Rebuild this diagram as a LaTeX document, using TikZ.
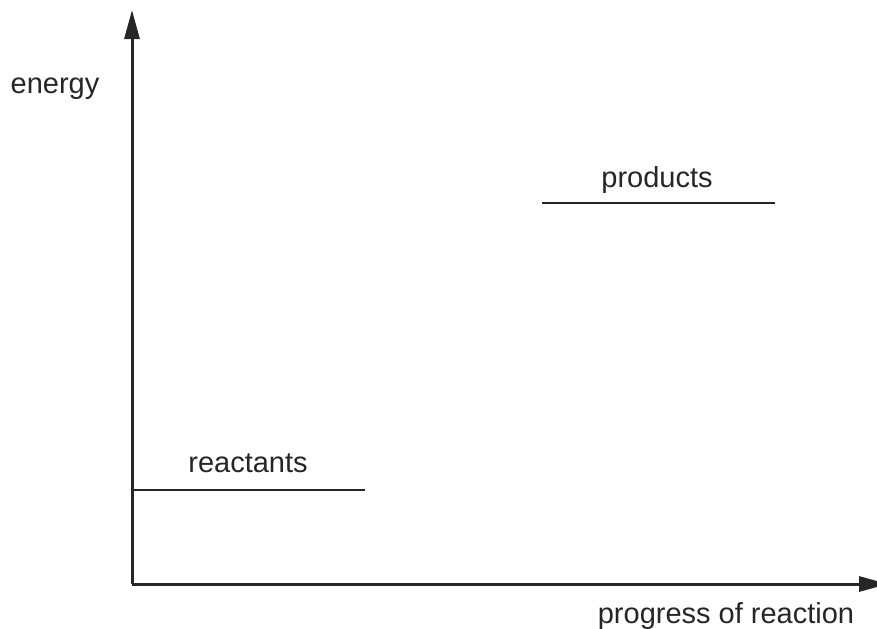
\documentclass[tikz,border=0pt]{standalone}
\usepackage{fontspec}
\setmainfont{Liberation Sans}
\usetikzlibrary{arrows.meta}

\begin{document}
\begin{tikzpicture}
[x=0.5pt, y=-0.5pt, line width=1.5pt, color={black!85},
  axis/.style={-{Triangle[length=14.5pt, width=7.5pt]}},
  level/.style={line width=1.3pt},
  label/.style={anchor=base, inner sep=0pt, font=\fontsize{14.5}{17}\selectfont}]
  \useasboundingbox (0,0) rectangle (877,628);
  % axes
  \coordinate (origin) at (132,584);
  \coordinate (ytop) at (132,10);
  \coordinate (xend) at (888,584);
  \draw[axis] (origin) -- (ytop);
  \draw[axis] (origin) -- (xend);
  % energy levels
  \coordinate (reactL) at (132,490);
  \coordinate (reactR) at (365,490);
  \coordinate (prodL) at (542,203);
  \coordinate (prodR) at (775,203);
  \draw[level] (reactL) -- (reactR);
  \draw[level] (prodL) -- (prodR);
  % labels
  \node[label] (energy) at (55,93) {energy};
  \node[label] (reactants) at (248,472) {reactants};
  \node[label] (products) at (657,187) {products};
  \node[label] (progress) at (726,623) {progress of reaction};
\end{tikzpicture}
\end{document}
